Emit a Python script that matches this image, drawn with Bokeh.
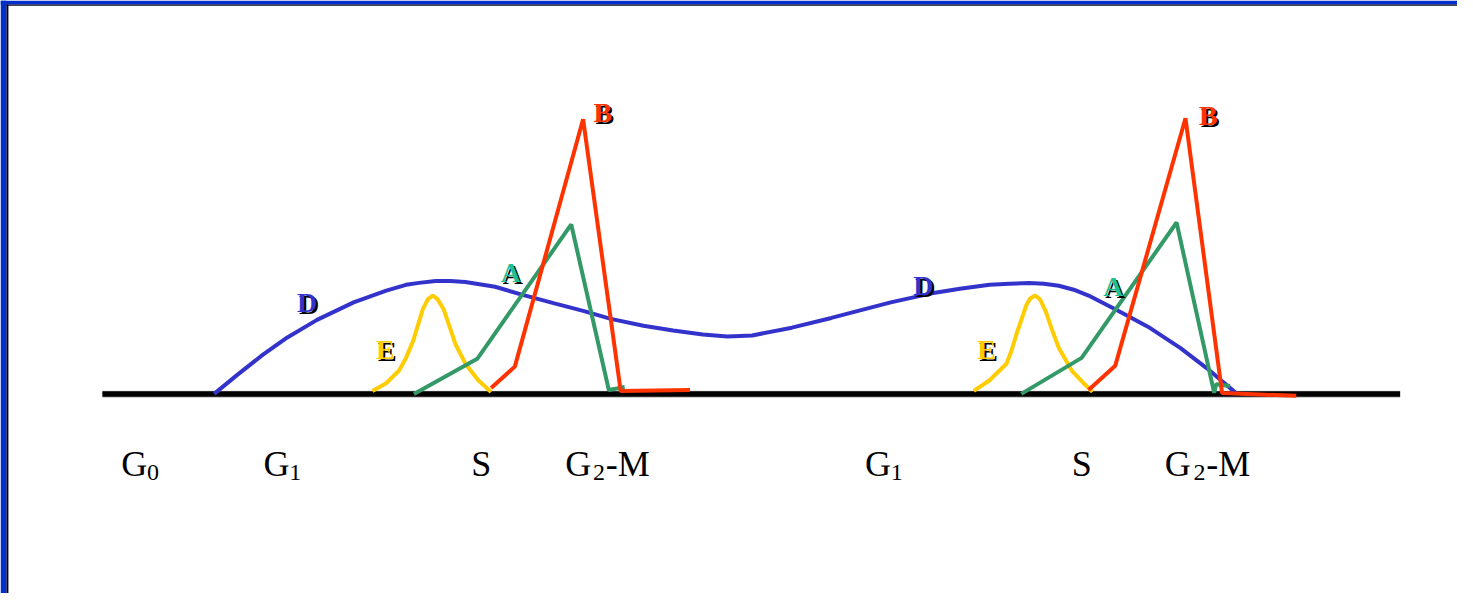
from bokeh.plotting import figure
from bokeh.models import Range1d
from bokeh.core.properties import value
from bokeh.embed import file_html
from bokeh.resources import INLINE

# ---- data (x = position along the cycle, y = height above the baseline) ----
BASE_X = [103, 1415]

D_X = [216, 240, 265, 290, 320, 357, 390, 410, 423, 440, 455, 470, 500, 527, 560, 590, 617,
       650, 680, 710, 735, 760, 800, 840, 870, 900, 940, 970, 1000, 1020, 1040, 1055, 1070,
       1085, 1100, 1127, 1160, 1193, 1220, 1250]
D_PY = [404, 384, 364, 346, 328, 310, 298, 292, 290, 288, 288, 289, 294, 302, 311, 319, 327,
        334, 339, 343, 345, 344, 336, 326, 318, 310, 301, 296, 292, 291, 290, 291, 293,
        297, 303, 317, 335, 357, 378, 404]

E1_X = [376, 390, 403, 410, 417, 427, 432, 437, 442, 448, 454, 460, 470, 483, 496]
E1_PY = [401, 393, 380, 367, 350, 317, 307, 303, 307, 317, 335, 353, 373, 390, 402]
E2_X = [984, 1000, 1017, 1022, 1027, 1037, 1041, 1046, 1051, 1057, 1063, 1070, 1083, 1094, 1104]
E2_PY = [401, 390, 373, 360, 343, 313, 306, 303, 307, 320, 338, 357, 380, 392, 402]

A1_X = [418, 482, 577, 615, 631]
A1_PY = [404, 368, 230, 400, 397]
A2_X = [1032, 1093, 1189, 1227, 1229, 1243]
A2_PY = [404, 367, 228, 403, 394, 396]

B1_X = [496, 520, 589, 627, 697]
B1_PY = [398, 376, 122, 401, 400]
B2_X = [1100, 1127, 1198, 1235, 1310]
B2_PY = [400, 375, 121, 403, 406]

CURVE_LETTERS = ["B", "B", "A", "A", "D", "D", "E", "E"]
LETTER_X = [609, 1221, 516, 1125, 310, 933, 389, 997]
LETTER_PY = [115, 118, 279, 294, 310, 293, 358, 358]

PHASE_MAIN = ["G", "G", "S", "G", "-M", "G", "S", "G", "-M"]
PHASE_MAIN_X = [122, 266, 476, 571, 612, 874, 1083, 1177, 1219]
PHASE_SUB = ["0", "1", "2", "1", "2"]
PHASE_SUB_X = [148, 292, 599, 900, 1206]

BASE_PY = 404
REF_W, REF_H = 1473, 609


def h(py):
    return [BASE_PY - v for v in py]


BLUE = "#3333CC"
YELLOW = "#FFCC00"
GREEN = "#339966"
RED = "#FF3300"
LETTER_COLORS = {"B": RED, "A": "#1DBF95", "D": BLUE, "E": YELLOW}

W, H = 1457, 593
ytop = BASE_PY
ybot = BASE_PY - REF_H
p = figure(width=W, height=H, output_backend="svg", toolbar_location=None,
           x_range=Range1d(0, REF_W), y_range=Range1d(ybot, ytop),
           min_border=0, outline_line_color=None)
p.axis.visible = False
p.grid.visible = False
p.background_fill_color = "white"
p.border_fill_color = "white"

# slide frame
p.quad(left=[0], right=[6], bottom=[ybot], top=[ytop], color="#0030CC", line_width=0)
p.quad(left=[6], right=[8], bottom=[ybot], top=[ytop - 4], color="#000020", line_width=0)
p.quad(left=[0], right=[REF_W], bottom=[ytop - 4], top=[ytop], color="#0030CC", line_width=0)
p.quad(left=[6], right=[REF_W], bottom=[ytop - 5.5], top=[ytop - 4], color="#000020", line_width=0)

# baseline
p.line(BASE_X, [-0.5, -0.5], line_color="#BBBBBB", line_width=7)
p.line(BASE_X, [0, 0], line_color="black", line_width=5.5)

# curves
LW = 4
p.line(D_X, h(D_PY), line_color=BLUE, line_width=LW)
p.line(E1_X, h(E1_PY), line_color=YELLOW, line_width=LW)
p.line(E2_X, h(E2_PY), line_color=YELLOW, line_width=LW)
p.line(A1_X, h(A1_PY), line_color=GREEN, line_width=LW)
p.line(A2_X, h(A2_PY), line_color=GREEN, line_width=LW)
p.line(B1_X, h(B1_PY), line_color=RED, line_width=LW)
p.line(B2_X, h(B2_PY), line_color=RED, line_width=LW)

# curve letters with drop shadow
font = value("Liberation Serif")
p.text([x + 2 for x in LETTER_X], [v - 2 for v in h(LETTER_PY)], text=CURVE_LETTERS,
       text_font=font, text_font_style="bold", text_font_size="28px",
       text_color="black", text_align="center", text_baseline="alphabetic")
p.text(LETTER_X, h(LETTER_PY), text=CURVE_LETTERS,
       text_font=font, text_font_style="bold", text_font_size="28px",
       text_color=[LETTER_COLORS[c] for c in CURVE_LETTERS],
       text_align="center", text_baseline="alphabetic")

# phase labels
p.text(PHASE_MAIN_X, [BASE_PY - 476] * len(PHASE_MAIN), text=PHASE_MAIN,
       text_font=font, text_font_size="36px", text_color="black",
       text_align="left", text_baseline="alphabetic")
p.text(PHASE_SUB_X, [BASE_PY - 485] * len(PHASE_SUB), text=PHASE_SUB,
       text_font=font, text_font_size="24px", text_color="black",
       text_align="left", text_baseline="alphabetic")

open("out.html", "w").write(file_html(p, INLINE))
